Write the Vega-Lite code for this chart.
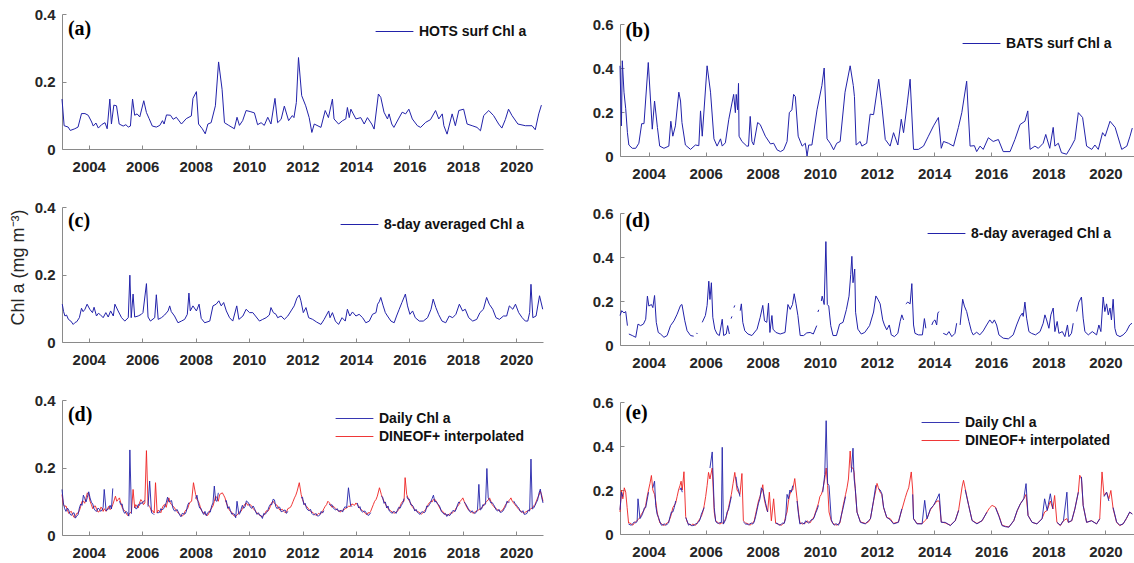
{
  "$schema": "https://vega.github.io/schema/vega-lite/v6.json",
  "background": "white",
  "padding": {"left": 9, "top": 7, "right": 0, "bottom": 0},
  "config": {
    "font": "Liberation Sans",
    "view": {"stroke": null},
    "axis": {
      "grid": false,
      "domainColor": "#8a8a8a",
      "tickColor": "#8a8a8a",
      "tickSize": -4,
      "labelFont": "Liberation Sans",
      "labelFontSize": 15,
      "labelFontWeight": "bold",
      "labelColor": "#262626",
      "labelFlush": false,
      "labelOverlap": false
    },
    "axisX": {"labelPadding": 14},
    "axisY": {"labelPadding": 11},
    "legend": {
      "symbolType": "M-2.7,0H2.7",
      "symbolSize": 196,
      "symbolStrokeWidth": 1,
      "labelFont": "Liberation Sans",
      "labelFontSize": 14,
      "labelFontWeight": "bold",
      "labelColor": "#111111",
      "labelOffset": 17,
      "padding": 0,
      "rowPadding": 3
    }
  },
  "datasets": {
    "hotsMonthly": [
      {"t":2003.0,"v":0.148},{"t":2003.08,"v":0.069},{"t":2003.23,"v":0.065},{"t":2003.31,"v":0.055},{"t":2003.48,"v":0.06},{"t":2003.6,"v":0.065},{"t":2003.73,"v":0.105},{"t":2003.86,"v":0.105},{"t":2003.98,"v":0.1},{"t":2004.11,"v":0.08},{"t":2004.17,"v":0.068},{"t":2004.27,"v":0.077},{"t":2004.36,"v":0.062},{"t":2004.48,"v":0.072},{"t":2004.61,"v":0.078},{"t":2004.69,"v":0.06},{"t":2004.79,"v":0.148},{"t":2004.85,"v":0.074},{"t":2004.94,"v":0.13},{"t":2005.04,"v":0.128},{"t":2005.14,"v":0.074},{"t":2005.29,"v":0.068},{"t":2005.39,"v":0.072},{"t":2005.48,"v":0.065},{"t":2005.56,"v":0.068},{"t":2005.64,"v":0.148},{"t":2005.72,"v":0.1},{"t":2005.81,"v":0.104},{"t":2005.91,"v":0.095},{"t":2006.06,"v":0.143},{"t":2006.16,"v":0.108},{"t":2006.26,"v":0.09},{"t":2006.38,"v":0.068},{"t":2006.53,"v":0.065},{"t":2006.66,"v":0.07},{"t":2006.76,"v":0.084},{"t":2006.82,"v":0.074},{"t":2006.91,"v":0.101},{"t":2007.06,"v":0.1},{"t":2007.16,"v":0.088},{"t":2007.28,"v":0.094},{"t":2007.47,"v":0.074},{"t":2007.65,"v":0.09},{"t":2007.84,"v":0.098},{"t":2007.9,"v":0.15},{"t":2008.03,"v":0.17},{"t":2008.11,"v":0.074},{"t":2008.25,"v":0.06},{"t":2008.36,"v":0.045},{"t":2008.46,"v":0.074},{"t":2008.58,"v":0.078},{"t":2008.74,"v":0.128},{"t":2008.86,"v":0.258},{"t":2008.99,"v":0.177},{"t":2009.08,"v":0.078},{"t":2009.24,"v":0.07},{"t":2009.45,"v":0.06},{"t":2009.55,"v":0.094},{"t":2009.64,"v":0.07},{"t":2009.76,"v":0.084},{"t":2009.89,"v":0.114},{"t":2010.04,"v":0.111},{"t":2010.2,"v":0.107},{"t":2010.32,"v":0.072},{"t":2010.45,"v":0.078},{"t":2010.57,"v":0.07},{"t":2010.7,"v":0.094},{"t":2010.82,"v":0.074},{"t":2010.97,"v":0.15},{"t":2011.07,"v":0.078},{"t":2011.2,"v":0.088},{"t":2011.32,"v":0.127},{"t":2011.48,"v":0.084},{"t":2011.62,"v":0.099},{"t":2011.68,"v":0.093},{"t":2011.77,"v":0.138},{"t":2011.85,"v":0.271},{"t":2011.97,"v":0.158},{"t":2012.12,"v":0.128},{"t":2012.25,"v":0.093},{"t":2012.35,"v":0.049},{"t":2012.44,"v":0.074},{"t":2012.69,"v":0.064},{"t":2012.85,"v":0.114},{"t":2012.97,"v":0.093},{"t":2013.12,"v":0.148},{"t":2013.18,"v":0.089},{"t":2013.35,"v":0.074},{"t":2013.5,"v":0.084},{"t":2013.62,"v":0.089},{"t":2013.68,"v":0.123},{"t":2013.75,"v":0.093},{"t":2013.81,"v":0.118},{"t":2013.9,"v":0.104},{"t":2014.0,"v":0.089},{"t":2014.18,"v":0.093},{"t":2014.31,"v":0.074},{"t":2014.43,"v":0.093},{"t":2014.59,"v":0.074},{"t":2014.68,"v":0.059},{"t":2014.84,"v":0.163},{"t":2014.93,"v":0.153},{"t":2015.05,"v":0.109},{"t":2015.18,"v":0.089},{"t":2015.24,"v":0.104},{"t":2015.34,"v":0.074},{"t":2015.42,"v":0.064},{"t":2015.59,"v":0.089},{"t":2015.73,"v":0.109},{"t":2015.86,"v":0.104},{"t":2015.98,"v":0.118},{"t":2016.11,"v":0.089},{"t":2016.3,"v":0.069},{"t":2016.42,"v":0.064},{"t":2016.61,"v":0.079},{"t":2016.79,"v":0.087},{"t":2016.98,"v":0.114},{"t":2017.1,"v":0.089},{"t":2017.23,"v":0.104},{"t":2017.29,"v":0.069},{"t":2017.41,"v":0.044},{"t":2017.6,"v":0.104},{"t":2017.72,"v":0.069},{"t":2017.85,"v":0.114},{"t":2018.03,"v":0.118},{"t":2018.16,"v":0.074},{"t":2018.35,"v":0.069},{"t":2018.53,"v":0.064},{"t":2018.66,"v":0.054},{"t":2018.78,"v":0.099},{"t":2018.97,"v":0.114},{"t":2019.15,"v":0.099},{"t":2019.34,"v":0.074},{"t":2019.46,"v":0.062},{"t":2019.59,"v":0.087},{"t":2019.71,"v":0.118},{"t":2019.84,"v":0.099},{"t":2020.06,"v":0.074},{"t":2020.34,"v":0.069},{"t":2020.59,"v":0.069},{"t":2020.71,"v":0.057},{"t":2020.84,"v":0.104},{"t":2020.94,"v":0.13}
    ],
    "batsMonthly": [
      {"t":2003.0,"v":0.41},{"t":2003.05,"v":0.137},{"t":2003.08,"v":0.433},{"t":2003.14,"v":0.29},{"t":2003.2,"v":0.215},{"t":2003.26,"v":0.106},{"t":2003.31,"v":0.05},{"t":2003.43,"v":0.035},{"t":2003.55,"v":0.035},{"t":2003.66,"v":0.058},{"t":2003.76,"v":0.147},{"t":2003.84,"v":0.147},{"t":2003.99,"v":0.425},{"t":2004.13,"v":0.122},{"t":2004.21,"v":0.25},{"t":2004.31,"v":0.13},{"t":2004.39,"v":0.045},{"t":2004.54,"v":0.035},{"t":2004.71,"v":0.045},{"t":2004.78,"v":0.158},{"t":2004.85,"v":0.09},{"t":2004.94,"v":0.137},{"t":2005.06,"v":0.29},{"t":2005.12,"v":0.25},{"t":2005.17,"v":0.152},{"t":2005.29,"v":0.05},{"t":2005.47,"v":0.03},{"t":2005.64,"v":0.05},{"t":2005.76,"v":0.047},{"t":2005.82,"v":0.205},{"t":2005.88,"v":0.09},{"t":2006.05,"v":0.41},{"t":2006.17,"v":0.29},{"t":2006.29,"v":0.078},{"t":2006.4,"v":0.045},{"t":2006.52,"v":0.078},{"t":2006.58,"v":0.045},{"t":2006.69,"v":0.06},{"t":2006.81,"v":0.167},{"t":2006.98,"v":0.28},{"t":2007.04,"v":0.197},{"t":2007.07,"v":0.28},{"t":2007.12,"v":0.21},{"t":2007.15,"v":0.33},{"t":2007.17,"v":0.09},{"t":2007.27,"v":0.066},{"t":2007.44,"v":0.045},{"t":2007.5,"v":0.045},{"t":2007.56,"v":0.18},{"t":2007.62,"v":0.066},{"t":2007.68,"v":0.05},{"t":2007.82,"v":0.152},{"t":2007.91,"v":0.143},{"t":2008.09,"v":0.09},{"t":2008.27,"v":0.055},{"t":2008.38,"v":0.058},{"t":2008.5,"v":0.028},{"t":2008.62,"v":0.02},{"t":2008.73,"v":0.028},{"t":2008.85,"v":0.066},{"t":2008.93,"v":0.197},{"t":2009.02,"v":0.21},{"t":2009.08,"v":0.28},{"t":2009.14,"v":0.27},{"t":2009.24,"v":0.09},{"t":2009.38,"v":0.045},{"t":2009.49,"v":0.058},{"t":2009.55,"v":0.0},{"t":2009.61,"v":0.05},{"t":2009.72,"v":0.05},{"t":2009.9,"v":0.21},{"t":2010.07,"v":0.32},{"t":2010.15,"v":0.4},{"t":2010.25,"v":0.078},{"t":2010.36,"v":0.058},{"t":2010.48,"v":0.028},{"t":2010.59,"v":0.058},{"t":2010.71,"v":0.066},{"t":2010.88,"v":0.29},{"t":2011.06,"v":0.41},{"t":2011.17,"v":0.32},{"t":2011.21,"v":0.27},{"t":2011.27,"v":0.05},{"t":2011.41,"v":0.066},{"t":2011.47,"v":0.045},{"t":2011.64,"v":0.058},{"t":2011.76,"v":0.19},{"t":2011.88,"v":0.188},{"t":2012.06,"v":0.349},{"t":2012.17,"v":0.228},{"t":2012.29,"v":0.075},{"t":2012.46,"v":0.045},{"t":2012.58,"v":0.106},{"t":2012.73,"v":0.05},{"t":2012.85,"v":0.167},{"t":2012.93,"v":0.106},{"t":2013.05,"v":0.228},{"t":2013.16,"v":0.349},{"t":2013.28,"v":0.03},{"t":2013.45,"v":0.03},{"t":2013.63,"v":0.045},{"t":2013.8,"v":0.09},{"t":2013.98,"v":0.137},{"t":2014.15,"v":0.175},{"t":2014.25,"v":0.035},{"t":2014.33,"v":0.066},{"t":2014.5,"v":0.058},{"t":2014.68,"v":0.045},{"t":2014.85,"v":0.13},{"t":2014.97,"v":0.197},{"t":2015.14,"v":0.34},{"t":2015.26,"v":0.045},{"t":2015.41,"v":0.047},{"t":2015.49,"v":0.02},{"t":2015.61,"v":0.045},{"t":2015.72,"v":0.03},{"t":2015.9,"v":0.083},{"t":2016.07,"v":0.066},{"t":2016.25,"v":0.075},{"t":2016.42,"v":0.02},{"t":2016.66,"v":0.02},{"t":2016.83,"v":0.075},{"t":2017.01,"v":0.143},{"t":2017.18,"v":0.158},{"t":2017.28,"v":0.205},{"t":2017.36,"v":0.03},{"t":2017.53,"v":0.045},{"t":2017.65,"v":0.035},{"t":2017.82,"v":0.058},{"t":2017.91,"v":0.098},{"t":2018.05,"v":0.035},{"t":2018.17,"v":0.13},{"t":2018.23,"v":0.045},{"t":2018.35,"v":0.058},{"t":2018.46,"v":0.015},{"t":2018.64,"v":0.008},{"t":2018.81,"v":0.045},{"t":2018.93,"v":0.075},{"t":2019.05,"v":0.197},{"t":2019.2,"v":0.175},{"t":2019.34,"v":0.045},{"t":2019.52,"v":0.03},{"t":2019.63,"v":0.05},{"t":2019.75,"v":0.03},{"t":2019.9,"v":0.106},{"t":2019.99,"v":0.09},{"t":2020.16,"v":0.158},{"t":2020.34,"v":0.13},{"t":2020.57,"v":0.03},{"t":2020.75,"v":0.045},{"t":2020.86,"v":0.09},{"t":2020.94,"v":0.127}
    ],
    "hots8day": [
      {"t":2003.01,"v":0.112},{"t":2003.06,"v":0.09},{"t":2003.11,"v":0.077},{"t":2003.17,"v":0.08},{"t":2003.24,"v":0.067},{"t":2003.33,"v":0.062},{"t":2003.42,"v":0.052},{"t":2003.49,"v":0.058},{"t":2003.55,"v":0.06},{"t":2003.65,"v":0.072},{"t":2003.73,"v":0.1},{"t":2003.79,"v":0.09},{"t":2003.86,"v":0.097},{"t":2003.94,"v":0.112},{"t":2004.04,"v":0.097},{"t":2004.14,"v":0.087},{"t":2004.2,"v":0.103},{"t":2004.29,"v":0.077},{"t":2004.36,"v":0.085},{"t":2004.42,"v":0.082},{"t":2004.54,"v":0.072},{"t":2004.64,"v":0.087},{"t":2004.73,"v":0.074},{"t":2004.82,"v":0.092},{"t":2004.92,"v":0.077},{"t":2004.98,"v":0.112},{"t":2005.1,"v":0.092},{"t":2005.23,"v":0.072},{"t":2005.35,"v":0.062},{"t":2005.48,"v":0.072},{"t":2005.54,"v":0.198},{"t":2005.59,"v":0.072},{"t":2005.66,"v":0.142},{"t":2005.72,"v":0.074},{"t":2005.85,"v":0.077},{"t":2005.97,"v":0.082},{"t":2006.03,"v":0.087},{"t":2006.16,"v":0.173},{"t":2006.22,"v":0.074},{"t":2006.31,"v":0.062},{"t":2006.47,"v":0.072},{"t":2006.53,"v":0.14},{"t":2006.6,"v":0.067},{"t":2006.72,"v":0.072},{"t":2006.84,"v":0.08},{"t":2006.97,"v":0.092},{"t":2007.03,"v":0.107},{"t":2007.09,"v":0.09},{"t":2007.21,"v":0.077},{"t":2007.34,"v":0.057},{"t":2007.47,"v":0.062},{"t":2007.59,"v":0.067},{"t":2007.69,"v":0.082},{"t":2007.75,"v":0.145},{"t":2007.8,"v":0.092},{"t":2007.9,"v":0.107},{"t":2008.03,"v":0.092},{"t":2008.13,"v":0.112},{"t":2008.21,"v":0.07},{"t":2008.34,"v":0.057},{"t":2008.53,"v":0.062},{"t":2008.65,"v":0.107},{"t":2008.77,"v":0.112},{"t":2008.87,"v":0.122},{"t":2008.96,"v":0.107},{"t":2009.05,"v":0.117},{"t":2009.15,"v":0.092},{"t":2009.27,"v":0.072},{"t":2009.39,"v":0.062},{"t":2009.54,"v":0.107},{"t":2009.62,"v":0.067},{"t":2009.77,"v":0.077},{"t":2009.89,"v":0.097},{"t":2010.02,"v":0.087},{"t":2010.14,"v":0.087},{"t":2010.24,"v":0.077},{"t":2010.39,"v":0.062},{"t":2010.51,"v":0.067},{"t":2010.64,"v":0.072},{"t":2010.76,"v":0.08},{"t":2010.82,"v":0.102},{"t":2010.91,"v":0.087},{"t":2011.01,"v":0.082},{"t":2011.07,"v":0.072},{"t":2011.2,"v":0.077},{"t":2011.32,"v":0.067},{"t":2011.45,"v":0.077},{"t":2011.57,"v":0.092},{"t":2011.69,"v":0.107},{"t":2011.79,"v":0.13},{"t":2011.88,"v":0.139},{"t":2011.94,"v":0.122},{"t":2012.03,"v":0.087},{"t":2012.13,"v":0.102},{"t":2012.23,"v":0.072},{"t":2012.38,"v":0.067},{"t":2012.53,"v":0.059},{"t":2012.69,"v":0.052},{"t":2012.81,"v":0.067},{"t":2012.98,"v":0.092},{"t":2013.03,"v":0.072},{"t":2013.12,"v":0.087},{"t":2013.23,"v":0.062},{"t":2013.35,"v":0.052},{"t":2013.48,"v":0.072},{"t":2013.6,"v":0.062},{"t":2013.68,"v":0.097},{"t":2013.77,"v":0.077},{"t":2013.87,"v":0.089},{"t":2014.0,"v":0.077},{"t":2014.12,"v":0.082},{"t":2014.25,"v":0.072},{"t":2014.37,"v":0.057},{"t":2014.5,"v":0.062},{"t":2014.62,"v":0.082},{"t":2014.75,"v":0.087},{"t":2014.81,"v":0.112},{"t":2014.87,"v":0.119},{"t":2014.93,"v":0.132},{"t":2015.02,"v":0.107},{"t":2015.1,"v":0.087},{"t":2015.18,"v":0.077},{"t":2015.31,"v":0.062},{"t":2015.43,"v":0.057},{"t":2015.52,"v":0.077},{"t":2015.62,"v":0.097},{"t":2015.72,"v":0.117},{"t":2015.85,"v":0.142},{"t":2015.93,"v":0.107},{"t":2016.02,"v":0.082},{"t":2016.12,"v":0.092},{"t":2016.22,"v":0.072},{"t":2016.37,"v":0.062},{"t":2016.52,"v":0.062},{"t":2016.68,"v":0.072},{"t":2016.81,"v":0.097},{"t":2016.89,"v":0.127},{"t":2016.99,"v":0.102},{"t":2017.09,"v":0.082},{"t":2017.22,"v":0.062},{"t":2017.36,"v":0.057},{"t":2017.49,"v":0.077},{"t":2017.62,"v":0.072},{"t":2017.74,"v":0.082},{"t":2017.87,"v":0.112},{"t":2017.99,"v":0.092},{"t":2018.09,"v":0.097},{"t":2018.22,"v":0.072},{"t":2018.37,"v":0.062},{"t":2018.52,"v":0.067},{"t":2018.64,"v":0.087},{"t":2018.77,"v":0.097},{"t":2018.89,"v":0.132},{"t":2018.99,"v":0.112},{"t":2019.12,"v":0.097},{"t":2019.24,"v":0.072},{"t":2019.37,"v":0.067},{"t":2019.52,"v":0.077},{"t":2019.64,"v":0.077},{"t":2019.74,"v":0.107},{"t":2019.87,"v":0.097},{"t":2019.97,"v":0.112},{"t":2020.09,"v":0.087},{"t":2020.22,"v":0.072},{"t":2020.34,"v":0.062},{"t":2020.43,"v":0.062},{"t":2020.5,"v":0.087},{"t":2020.55,"v":0.171},{"t":2020.62,"v":0.072},{"t":2020.74,"v":0.077},{"t":2020.87,"v":0.137},{"t":2020.99,"v":0.097}
    ],
    "bats8day": [
      {"t":2003.0,"v":0.134},{"t":2003.06,"v":0.156},{"t":2003.14,"v":0.146},{"t":2003.2,"v":0.152},{"t":2003.26,"v":0.088},{"t":2003.28,"v":null},{"t":2003.31,"v":0.05},{"t":2003.43,"v":0.043},{"t":2003.55,"v":0.035},{"t":2003.63,"v":0.095},{"t":2003.72,"v":0.088},{"t":2003.82,"v":0.095},{"t":2003.9,"v":0.117},{"t":2003.96,"v":0.222},{"t":2004.01,"v":0.177},{"t":2004.1,"v":0.184},{"t":2004.15,"v":0.17},{"t":2004.21,"v":0.225},{"t":2004.27,"v":0.103},{"t":2004.34,"v":0.057},{"t":2004.42,"v":0.05},{"t":2004.54,"v":0.035},{"t":2004.65,"v":0.043},{"t":2004.77,"v":0.088},{"t":2004.89,"v":0.11},{"t":2005.0,"v":0.14},{"t":2005.12,"v":0.18},{"t":2005.17,"v":0.184},{"t":2005.27,"v":0.11},{"t":2005.35,"v":0.065},{"t":2005.47,"v":0.043},{"t":2005.58,"v":0.04},{"t":2005.63,"v":null},{"t":2005.68,"v":0.055},{"t":2005.71,"v":0.05},{"t":2005.75,"v":null},{"t":2005.88,"v":0.103},{"t":2005.99,"v":0.134},{"t":2006.05,"v":0.18},{"t":2006.11,"v":0.29},{"t":2006.15,"v":0.207},{"t":2006.2,"v":0.283},{"t":2006.25,"v":0.126},{"t":2006.32,"v":0.072},{"t":2006.4,"v":0.05},{"t":2006.48,"v":0.043},{"t":2006.58,"v":0.117},{"t":2006.63,"v":0.043},{"t":2006.72,"v":0.05},{"t":2006.77,"v":0.088},{"t":2006.83,"v":0.05},{"t":2006.86,"v":null},{"t":2006.89,"v":0.12},{"t":2006.92,"v":0.13},{"t":2006.95,"v":null},{"t":2006.99,"v":0.17},{"t":2007.02,"v":0.18},{"t":2007.05,"v":null},{"t":2007.21,"v":0.156},{"t":2007.25,"v":0.187},{"t":2007.3,"v":0.103},{"t":2007.37,"v":0.065},{"t":2007.48,"v":0.05},{"t":2007.62,"v":0.043},{"t":2007.8,"v":0.072},{"t":2007.91,"v":0.126},{"t":2008.0,"v":0.18},{"t":2008.06,"v":0.11},{"t":2008.14,"v":0.103},{"t":2008.2,"v":0.19},{"t":2008.25,"v":0.057},{"t":2008.32,"v":0.134},{"t":2008.36,"v":0.072},{"t":2008.46,"v":0.057},{"t":2008.61,"v":0.05},{"t":2008.78,"v":0.057},{"t":2008.88,"v":0.184},{"t":2008.96,"v":0.162},{"t":2009.04,"v":0.184},{"t":2009.1,"v":0.233},{"t":2009.16,"v":0.19},{"t":2009.23,"v":0.134},{"t":2009.31,"v":0.043},{"t":2009.43,"v":0.043},{"t":2009.54,"v":0.055},{"t":2009.66,"v":0.057},{"t":2009.77,"v":0.05},{"t":2009.89,"v":0.088},{"t":2009.91,"v":null},{"t":2009.93,"v":0.15},{"t":2009.96,"v":0.16},{"t":2009.99,"v":null},{"t":2010.05,"v":0.2},{"t":2010.08,"v":0.222},{"t":2010.15,"v":0.184},{"t":2010.21,"v":0.47},{"t":2010.26,"v":0.184},{"t":2010.31,"v":0.177},{"t":2010.38,"v":0.088},{"t":2010.46,"v":0.043},{"t":2010.58,"v":0.043},{"t":2010.69,"v":0.095},{"t":2010.81,"v":0.103},{"t":2010.93,"v":0.162},{"t":2011.02,"v":0.222},{"t":2011.08,"v":0.32},{"t":2011.12,"v":0.403},{"t":2011.16,"v":0.283},{"t":2011.22,"v":0.345},{"t":2011.25,"v":0.149},{"t":2011.33,"v":0.072},{"t":2011.45,"v":0.05},{"t":2011.57,"v":0.057},{"t":2011.74,"v":0.088},{"t":2011.88,"v":0.15},{"t":2011.96,"v":0.223},{"t":2012.03,"v":0.208},{"t":2012.11,"v":0.187},{"t":2012.2,"v":0.114},{"t":2012.26,"v":0.091},{"t":2012.34,"v":0.069},{"t":2012.43,"v":0.091},{"t":2012.5,"v":0.046},{"t":2012.61,"v":0.038},{"t":2012.73,"v":0.053},{"t":2012.81,"v":0.107},{"t":2012.87,"v":0.137},{"t":2012.93,"v":0.114},{"t":2012.97,"v":null},{"t":2013.01,"v":0.187},{"t":2013.08,"v":0.195},{"t":2013.16,"v":0.187},{"t":2013.22,"v":0.279},{"t":2013.28,"v":0.091},{"t":2013.33,"v":0.053},{"t":2013.45,"v":0.046},{"t":2013.59,"v":0.046},{"t":2013.66,"v":0.12},{"t":2013.71,"v":0.076},{"t":2013.8,"v":null},{"t":2013.92,"v":0.091},{"t":2013.97,"v":0.107},{"t":2014.03,"v":0.114},{"t":2014.09,"v":0.091},{"t":2014.13,"v":0.145},{"t":2014.17,"v":0.152},{"t":2014.24,"v":null},{"t":2014.32,"v":0.053},{"t":2014.44,"v":0.046},{"t":2014.52,"v":0.061},{"t":2014.62,"v":0.038},{"t":2014.73,"v":0.053},{"t":2014.79,"v":0.099},{"t":2014.85,"v":null},{"t":2014.91,"v":0.091},{"t":2015.0,"v":0.208},{"t":2015.06,"v":0.177},{"t":2015.14,"v":0.152},{"t":2015.22,"v":0.107},{"t":2015.31,"v":0.061},{"t":2015.37,"v":0.046},{"t":2015.49,"v":0.058},{"t":2015.6,"v":0.046},{"t":2015.72,"v":0.064},{"t":2015.84,"v":0.091},{"t":2015.95,"v":0.114},{"t":2016.04,"v":0.099},{"t":2016.11,"v":0.114},{"t":2016.19,"v":0.091},{"t":2016.27,"v":0.046},{"t":2016.42,"v":0.031},{"t":2016.6,"v":0.028},{"t":2016.77,"v":0.046},{"t":2016.89,"v":0.091},{"t":2017.01,"v":0.13},{"t":2017.09,"v":0.145},{"t":2017.12,"v":0.13},{"t":2017.18,"v":0.195},{"t":2017.24,"v":0.122},{"t":2017.32,"v":0.061},{"t":2017.41,"v":0.053},{"t":2017.55,"v":0.046},{"t":2017.71,"v":0.061},{"t":2017.82,"v":0.099},{"t":2017.88,"v":0.137},{"t":2017.94,"v":0.114},{"t":2018.02,"v":0.076},{"t":2018.09,"v":0.137},{"t":2018.17,"v":0.168},{"t":2018.23,"v":0.061},{"t":2018.31,"v":0.107},{"t":2018.37,"v":0.053},{"t":2018.49,"v":0.061},{"t":2018.58,"v":0.038},{"t":2018.67,"v":0.091},{"t":2018.72,"v":0.038},{"t":2018.81,"v":0.053},{"t":2018.87,"v":0.099},{"t":2018.93,"v":null},{"t":2018.99,"v":0.152},{"t":2019.07,"v":0.195},{"t":2019.16,"v":0.218},{"t":2019.22,"v":0.122},{"t":2019.28,"v":0.061},{"t":2019.4,"v":0.046},{"t":2019.54,"v":0.061},{"t":2019.69,"v":0.046},{"t":2019.77,"v":0.091},{"t":2019.84,"v":0.061},{"t":2019.92,"v":0.218},{"t":2019.98,"v":0.152},{"t":2020.04,"v":0.187},{"t":2020.1,"v":0.137},{"t":2020.16,"v":0.168},{"t":2020.21,"v":0.114},{"t":2020.27,"v":0.208},{"t":2020.33,"v":0.076},{"t":2020.39,"v":0.046},{"t":2020.51,"v":0.038},{"t":2020.62,"v":0.046},{"t":2020.73,"v":0.061},{"t":2020.85,"v":0.091},{"t":2020.93,"v":0.099}
    ],
    "hotsDaily": [
      {"t":2003.0,"i":0.12,"d":0.135},{"t":2003.05,"i":0.09,"d":0.095},{"t":2003.1,"i":0.085,"d":0.078},{"t":2003.2,"i":0.075,"d":0.08},{"t":2003.3,"i":0.068,"d":0.062},{"t":2003.4,"i":0.06,"d":0.064},{"t":2003.5,"i":0.055,"d":0.05},{"t":2003.6,"i":0.065,"d":0.06},{"t":2003.7,"i":0.085,"d":0.092},{"t":2003.8,"i":0.1,"d":0.118},{"t":2003.9,"i":0.11,"d":0.098},{"t":2004.0,"i":0.12,"d":0.128},{"t":2004.1,"i":0.09,"d":0.097},{"t":2004.2,"i":0.085,"d":0.078},{"t":2004.3,"i":0.075,"d":0.07},{"t":2004.4,"i":0.07,"d":0.076},{"t":2004.5,"i":0.08,"d":0.074},{"t":2004.58,"i":0.078,"d":0.135},{"t":2004.65,"i":0.07,"d":0.072},{"t":2004.75,"i":0.085,"d":0.078},{"t":2004.85,"i":0.08,"d":0.077},{"t":2004.9,"i":0.09,"d":0.138},{"t":2005.0,"i":0.115,"d":null},{"t":2005.1,"i":0.105,"d":null},{"t":2005.2,"i":0.095,"d":0.09},{"t":2005.3,"i":0.075,"d":0.07},{"t":2005.4,"i":0.065,"d":0.07},{"t":2005.5,"i":0.06,"d":0.056},{"t":2005.54,"i":0.065,"d":0.252},{"t":2005.6,"i":0.07,"d":0.063},{"t":2005.66,"i":0.135,"d":null},{"t":2005.72,"i":0.08,"d":0.084},{"t":2005.8,"i":0.085,"d":0.078},{"t":2005.9,"i":0.095,"d":0.088},{"t":2006.0,"i":0.1,"d":0.093},{"t":2006.1,"i":0.095,"d":0.102},{"t":2006.16,"i":0.25,"d":null},{"t":2006.22,"i":0.09,"d":0.084},{"t":2006.28,"i":0.085,"d":0.16},{"t":2006.35,"i":0.07,"d":0.066},{"t":2006.45,"i":0.065,"d":0.06},{"t":2006.5,"i":0.155,"d":null},{"t":2006.56,"i":0.065,"d":0.066},{"t":2006.65,"i":0.07,"d":0.067},{"t":2006.75,"i":0.08,"d":0.074},{"t":2006.85,"i":0.09,"d":0.086},{"t":2006.95,"i":0.1,"d":0.112},{"t":2007.05,"i":0.095,"d":0.1},{"t":2007.15,"i":0.085,"d":0.08},{"t":2007.25,"i":0.075,"d":0.071},{"t":2007.35,"i":0.065,"d":0.069},{"t":2007.45,"i":0.058,"d":0.054},{"t":2007.55,"i":0.06,"d":0.063},{"t":2007.65,"i":0.075,"d":0.069},{"t":2007.75,"i":0.09,"d":0.096},{"t":2007.85,"i":0.1,"d":null},{"t":2007.92,"i":0.155,"d":null},{"t":2008.0,"i":0.12,"d":0.108},{"t":2008.1,"i":0.1,"d":0.094},{"t":2008.2,"i":0.075,"d":0.079},{"t":2008.3,"i":0.065,"d":0.061},{"t":2008.4,"i":0.06,"d":0.057},{"t":2008.5,"i":0.065,"d":0.069},{"t":2008.6,"i":0.08,"d":0.086},{"t":2008.7,"i":0.1,"d":0.145},{"t":2008.8,"i":0.11,"d":0.1},{"t":2008.9,"i":0.12,"d":null},{"t":2009.0,"i":0.125,"d":null},{"t":2009.1,"i":0.11,"d":0.1},{"t":2009.2,"i":0.085,"d":0.079},{"t":2009.3,"i":0.07,"d":0.073},{"t":2009.4,"i":0.06,"d":0.063},{"t":2009.5,"i":0.055,"d":0.051},{"t":2009.55,"i":0.06,"d":0.1},{"t":2009.62,"i":0.065,"d":0.061},{"t":2009.7,"i":0.07,"d":0.076},{"t":2009.8,"i":0.085,"d":0.079},{"t":2009.9,"i":0.095,"d":0.101},{"t":2010.0,"i":0.09,"d":0.092},{"t":2010.1,"i":0.085,"d":0.079},{"t":2010.2,"i":0.075,"d":0.079},{"t":2010.3,"i":0.065,"d":0.061},{"t":2010.4,"i":0.06,"d":0.058},{"t":2010.5,"i":0.055,"d":0.049},{"t":2010.6,"i":0.065,"d":0.061},{"t":2010.7,"i":0.07,"d":0.073},{"t":2010.8,"i":0.085,"d":0.091},{"t":2010.9,"i":0.1,"d":0.106},{"t":2011.0,"i":0.09,"d":0.084},{"t":2011.1,"i":0.08,"d":0.083},{"t":2011.2,"i":0.075,"d":0.069},{"t":2011.3,"i":0.07,"d":0.073},{"t":2011.4,"i":0.068,"d":0.064},{"t":2011.5,"i":0.08,"d":null},{"t":2011.6,"i":0.09,"d":null},{"t":2011.7,"i":0.11,"d":null},{"t":2011.8,"i":0.13,"d":null},{"t":2011.88,"i":0.155,"d":null},{"t":2011.95,"i":0.12,"d":0.11},{"t":2012.05,"i":0.095,"d":0.09},{"t":2012.15,"i":0.085,"d":0.079},{"t":2012.25,"i":0.075,"d":0.072},{"t":2012.35,"i":0.068,"d":0.064},{"t":2012.45,"i":0.062,"d":0.06},{"t":2012.55,"i":0.06,"d":0.057},{"t":2012.65,"i":0.062,"d":0.06},{"t":2012.75,"i":0.07,"d":0.065},{"t":2012.85,"i":0.085,"d":null},{"t":2012.95,"i":0.1,"d":null},{"t":2013.05,"i":0.09,"d":0.087},{"t":2013.15,"i":0.085,"d":0.081},{"t":2013.25,"i":0.078,"d":0.074},{"t":2013.35,"i":0.072,"d":0.07},{"t":2013.45,"i":0.07,"d":0.073},{"t":2013.55,"i":0.075,"d":0.079},{"t":2013.65,"i":0.08,"d":0.08},{"t":2013.72,"i":0.085,"d":0.14},{"t":2013.8,"i":0.085,"d":0.088},{"t":2013.9,"i":0.09,"d":null},{"t":2014.0,"i":0.095,"d":null},{"t":2014.1,"i":0.085,"d":0.08},{"t":2014.2,"i":0.075,"d":0.071},{"t":2014.3,"i":0.068,"d":0.071},{"t":2014.4,"i":0.06,"d":0.063},{"t":2014.5,"i":0.065,"d":0.06},{"t":2014.6,"i":0.08,"d":null},{"t":2014.7,"i":0.1,"d":null},{"t":2014.8,"i":0.115,"d":null},{"t":2014.88,"i":0.14,"d":null},{"t":2014.95,"i":0.12,"d":0.115},{"t":2015.05,"i":0.1,"d":0.094},{"t":2015.15,"i":0.085,"d":0.08},{"t":2015.25,"i":0.075,"d":0.071},{"t":2015.35,"i":0.068,"d":0.064},{"t":2015.45,"i":0.065,"d":0.069},{"t":2015.55,"i":0.07,"d":0.073},{"t":2015.65,"i":0.085,"d":0.079},{"t":2015.75,"i":0.1,"d":0.094},{"t":2015.84,"i":0.17,"d":null},{"t":2015.9,"i":0.12,"d":0.114},{"t":2016.0,"i":0.1,"d":0.106},{"t":2016.1,"i":0.085,"d":0.089},{"t":2016.2,"i":0.075,"d":0.071},{"t":2016.3,"i":0.07,"d":0.067},{"t":2016.4,"i":0.065,"d":0.061},{"t":2016.5,"i":0.065,"d":0.069},{"t":2016.6,"i":0.075,"d":0.069},{"t":2016.7,"i":0.09,"d":0.084},{"t":2016.8,"i":0.1,"d":0.097},{"t":2016.9,"i":0.105,"d":0.118},{"t":2017.0,"i":0.1,"d":0.1},{"t":2017.1,"i":0.085,"d":0.089},{"t":2017.2,"i":0.072,"d":0.069},{"t":2017.3,"i":0.065,"d":0.061},{"t":2017.4,"i":0.06,"d":0.055},{"t":2017.5,"i":0.062,"d":0.057},{"t":2017.6,"i":0.065,"d":0.069},{"t":2017.7,"i":0.072,"d":0.069},{"t":2017.8,"i":0.085,"d":0.089},{"t":2017.9,"i":0.1,"d":0.094},{"t":2018.0,"i":0.11,"d":null},{"t":2018.1,"i":0.09,"d":0.093},{"t":2018.2,"i":0.075,"d":0.079},{"t":2018.3,"i":0.07,"d":0.067},{"t":2018.4,"i":0.065,"d":0.066},{"t":2018.5,"i":0.07,"d":0.067},{"t":2018.6,"i":0.075,"d":0.15},{"t":2018.7,"i":0.08,"d":0.077},{"t":2018.8,"i":0.09,"d":0.088},{"t":2018.9,"i":0.1,"d":0.197},{"t":2019.0,"i":0.11,"d":0.104},{"t":2019.1,"i":0.09,"d":0.096},{"t":2019.2,"i":0.08,"d":0.083},{"t":2019.3,"i":0.075,"d":0.071},{"t":2019.4,"i":0.07,"d":0.067},{"t":2019.5,"i":0.075,"d":0.071},{"t":2019.6,"i":0.09,"d":0.084},{"t":2019.7,"i":0.1,"d":0.097},{"t":2019.8,"i":0.11,"d":null},{"t":2019.9,"i":0.095,"d":0.101},{"t":2020.0,"i":0.085,"d":0.089},{"t":2020.1,"i":0.075,"d":0.079},{"t":2020.2,"i":0.07,"d":0.067},{"t":2020.3,"i":0.065,"d":0.061},{"t":2020.4,"i":0.07,"d":0.064},{"t":2020.5,"i":0.075,"d":0.071},{"t":2020.55,"i":0.078,"d":0.225},{"t":2020.6,"i":0.08,"d":0.077},{"t":2020.7,"i":0.09,"d":0.087},{"t":2020.8,"i":0.11,"d":0.104},{"t":2020.9,"i":0.13,"d":0.136},{"t":2021.0,"i":0.1,"d":0.095},
      {"t":2003.15,"i":0.086,"d":0.07},{"t":2003.25,"i":0.064,"d":0.074},{"t":2003.35,"i":0.07,"d":0.058},{"t":2003.45,"i":0.052,"d":0.066},{"t":2003.55,"i":0.064,"d":0.056},{"t":2003.65,"i":0.072,"d":0.08},{"t":2003.75,"i":0.1,"d":0.088},{"t":2003.85,"i":0.094,"d":0.108},{"t":2003.95,"i":0.125,"d":0.112},{"t":2004.05,"i":0.1,"d":0.11},{"t":2004.15,"i":0.078,"d":0.092},{"t":2004.25,"i":0.086,"d":0.072},{"t":2004.35,"i":0.068,"d":0.08},{"t":2004.45,"i":0.082,"d":0.07},{"t":2004.54,"i":0.07,"d":0.082},{"t":2004.8,"i":0.075,"d":0.088},{"t":2005.05,"i":0.1,"d":null},{"t":2005.15,"i":0.11,"d":0.1},{"t":2005.25,"i":0.082,"d":0.092},{"t":2005.35,"i":0.072,"d":0.064},{"t":2005.45,"i":0.058,"d":0.066},{"t":2005.76,"i":0.09,"d":0.078},{"t":2005.85,"i":0.08,"d":0.09},{"t":2005.95,"i":0.105,"d":0.096},{"t":2006.05,"i":0.09,"d":0.1},{"t":2006.4,"i":0.072,"d":0.064},{"t":2006.6,"i":0.074,"d":0.066},{"t":2006.7,"i":0.066,"d":0.078},{"t":2006.8,"i":0.088,"d":0.078},{"t":2006.9,"i":0.082,"d":0.096},{"t":2007.0,"i":0.11,"d":0.098},{"t":2007.1,"i":0.09,"d":0.102},{"t":2007.2,"i":0.082,"d":0.072},{"t":2007.3,"i":0.07,"d":0.076},{"t":2007.4,"i":0.062,"d":0.06},{"t":2007.5,"i":0.056,"d":0.064},{"t":2007.6,"i":0.07,"d":0.062},{"t":2007.7,"i":0.078,"d":0.088},{"t":2007.8,"i":0.098,"d":null},{"t":2008.05,"i":0.105,"d":0.118},{"t":2008.15,"i":0.09,"d":0.08},{"t":2008.25,"i":0.07,"d":0.068},{"t":2008.35,"i":0.062,"d":0.07},{"t":2008.45,"i":0.058,"d":0.066},{"t":2008.55,"i":0.074,"d":0.068},{"t":2008.65,"i":0.086,"d":0.095},{"t":2008.75,"i":0.115,"d":0.102},{"t":2008.85,"i":0.1,"d":0.125},{"t":2009.05,"i":0.118,"d":null},{"t":2009.15,"i":0.095,"d":0.102},{"t":2009.25,"i":0.076,"d":0.084},{"t":2009.35,"i":0.068,"d":0.062},{"t":2009.45,"i":0.056,"d":0.062},{"t":2009.66,"i":0.07,"d":0.064},{"t":2009.75,"i":0.078,"d":0.088},{"t":2009.85,"i":0.092,"d":0.084},{"t":2009.95,"i":0.088,"d":0.098},{"t":2010.05,"i":0.09,"d":0.082},{"t":2010.15,"i":0.078,"d":0.086},{"t":2010.25,"i":0.07,"d":0.068},{"t":2010.35,"i":0.062,"d":0.066},{"t":2010.45,"i":0.054,"d":0.058},{"t":2010.55,"i":0.058,"d":0.064},{"t":2010.65,"i":0.072,"d":0.066},{"t":2010.75,"i":0.076,"d":0.084},{"t":2010.85,"i":0.096,"d":0.09},{"t":2010.95,"i":0.094,"d":0.104},{"t":2011.05,"i":0.088,"d":0.078},{"t":2011.15,"i":0.074,"d":0.082},{"t":2011.25,"i":0.076,"d":0.07},{"t":2011.35,"i":0.066,"d":0.074},{"t":2011.45,"i":0.078,"d":0.07},{"t":2011.55,"i":0.082,"d":null},{"t":2011.65,"i":0.1,"d":null},{"t":2011.75,"i":0.118,"d":null},{"t":2012.0,"i":0.105,"d":0.112},{"t":2012.1,"i":0.088,"d":0.094},{"t":2012.2,"i":0.08,"d":0.074},{"t":2012.3,"i":0.07,"d":0.076},{"t":2012.4,"i":0.066,"d":0.06},{"t":2012.5,"i":0.058,"d":0.064},{"t":2012.6,"i":0.064,"d":0.056},{"t":2012.7,"i":0.064,"d":0.07},{"t":2012.8,"i":0.078,"d":0.072},{"t":2012.9,"i":0.09,"d":null},{"t":2013.0,"i":0.096,"d":0.092},{"t":2013.1,"i":0.082,"d":0.09},{"t":2013.2,"i":0.082,"d":0.076},{"t":2013.3,"i":0.074,"d":0.078},{"t":2013.4,"i":0.068,"d":0.072},{"t":2013.5,"i":0.074,"d":0.068},{"t":2013.6,"i":0.078,"d":0.084},{"t":2013.85,"i":0.092,"d":0.084},{"t":2013.95,"i":0.088,"d":null},{"t":2014.05,"i":0.09,"d":0.095},{"t":2014.15,"i":0.078,"d":0.084},{"t":2014.25,"i":0.072,"d":0.068},{"t":2014.35,"i":0.064,"d":0.07},{"t":2014.45,"i":0.066,"d":0.058},{"t":2014.55,"i":0.07,"d":0.066},{"t":2014.65,"i":0.09,"d":null},{"t":2014.75,"i":0.105,"d":null},{"t":2015.0,"i":0.108,"d":0.112},{"t":2015.1,"i":0.092,"d":0.098},{"t":2015.2,"i":0.078,"d":0.086},{"t":2015.3,"i":0.072,"d":0.068},{"t":2015.4,"i":0.066,"d":0.07},{"t":2015.5,"i":0.068,"d":0.064},{"t":2015.6,"i":0.076,"d":0.082},{"t":2015.7,"i":0.094,"d":0.088},{"t":2015.8,"i":0.1,"d":0.108},{"t":2015.95,"i":0.11,"d":0.106},{"t":2016.05,"i":0.094,"d":0.09},{"t":2016.15,"i":0.08,"d":0.084},{"t":2016.25,"i":0.072,"d":0.076},{"t":2016.35,"i":0.068,"d":0.064},{"t":2016.45,"i":0.062,"d":0.068},{"t":2016.55,"i":0.07,"d":0.066},{"t":2016.65,"i":0.08,"d":0.086},{"t":2016.75,"i":0.096,"d":0.09},{"t":2016.85,"i":0.098,"d":0.108},{"t":2016.95,"i":0.106,"d":0.098},{"t":2017.05,"i":0.094,"d":0.092},{"t":2017.15,"i":0.078,"d":0.082},{"t":2017.25,"i":0.07,"d":0.066},{"t":2017.35,"i":0.06,"d":0.064},{"t":2017.45,"i":0.058,"d":0.062},{"t":2017.55,"i":0.066,"d":0.062},{"t":2017.65,"i":0.068,"d":0.074},{"t":2017.75,"i":0.08,"d":0.076},{"t":2017.85,"i":0.09,"d":0.098},{"t":2017.95,"i":0.104,"d":null},{"t":2018.05,"i":0.1,"d":0.098},{"t":2018.15,"i":0.082,"d":0.086},{"t":2018.25,"i":0.074,"d":0.07},{"t":2018.35,"i":0.066,"d":0.072},{"t":2018.45,"i":0.068,"d":0.064},{"t":2018.55,"i":0.072,"d":0.076},{"t":2018.65,"i":0.078,"d":0.074},{"t":2018.75,"i":0.085,"d":0.09},{"t":2018.85,"i":0.096,"d":0.092},{"t":2018.95,"i":0.104,"d":0.11},{"t":2019.05,"i":0.1,"d":0.095},{"t":2019.15,"i":0.085,"d":0.09},{"t":2019.25,"i":0.078,"d":0.074},{"t":2019.35,"i":0.072,"d":0.076},{"t":2019.45,"i":0.072,"d":0.068},{"t":2019.55,"i":0.082,"d":0.078},{"t":2019.65,"i":0.094,"d":0.1},{"t":2019.75,"i":0.104,"d":0.098},{"t":2019.85,"i":0.1,"d":null},{"t":2019.95,"i":0.09,"d":0.094},{"t":2020.05,"i":0.08,"d":0.084},{"t":2020.15,"i":0.072,"d":0.07},{"t":2020.25,"i":0.066,"d":0.072},{"t":2020.35,"i":0.068,"d":0.062},{"t":2020.45,"i":0.072,"d":0.074},{"t":2020.65,"i":0.086,"d":0.08},{"t":2020.75,"i":0.1,"d":0.096},{"t":2020.85,"i":0.118,"d":0.124},{"t":2020.95,"i":0.118,"d":0.112}
    ],
    "batsDaily": [
      {"t":2003.0,"i":0.1,"d":0.11},{"t":2003.05,"i":0.2,"d":0.19},{"t":2003.1,"i":0.16,"d":0.17},{"t":2003.15,"i":0.21,"d":null},{"t":2003.2,"i":0.19,"d":0.2},{"t":2003.25,"i":0.12,"d":null},{"t":2003.3,"i":0.05,"d":0.045},{"t":2003.4,"i":0.045,"d":0.04},{"t":2003.5,"i":0.05,"d":0.055},{"t":2003.6,"i":0.06,"d":0.058},{"t":2003.63,"i":0.065,"d":0.16},{"t":2003.7,"i":0.075,"d":0.07},{"t":2003.8,"i":0.1,"d":0.095},{"t":2003.9,"i":0.13,"d":0.12},{"t":2004.0,"i":0.2,"d":0.19},{"t":2004.1,"i":0.266,"d":null},{"t":2004.15,"i":0.2,"d":0.21},{"t":2004.21,"i":0.18,"d":0.24},{"t":2004.3,"i":0.1,"d":0.09},{"t":2004.4,"i":0.05,"d":0.055},{"t":2004.5,"i":0.04,"d":0.042},{"t":2004.6,"i":0.045,"d":0.04},{"t":2004.7,"i":0.055,"d":0.05},{"t":2004.8,"i":0.09,"d":0.1},{"t":2004.9,"i":0.13,"d":0.12},{"t":2005.0,"i":0.17,"d":null},{"t":2005.1,"i":0.22,"d":0.2},{"t":2005.18,"i":0.2,"d":0.19},{"t":2005.24,"i":0.283,"d":null},{"t":2005.3,"i":0.08,"d":0.075},{"t":2005.4,"i":0.045,"d":0.04},{"t":2005.5,"i":0.04,"d":0.038},{"t":2005.6,"i":0.042,"d":0.04},{"t":2005.7,"i":0.05,"d":0.048},{"t":2005.8,"i":0.07,"d":0.065},{"t":2005.9,"i":0.1,"d":0.105},{"t":2006.0,"i":0.17,"d":null},{"t":2006.1,"i":0.28,"d":null},{"t":2006.15,"i":0.25,"d":0.3},{"t":2006.23,"i":0.3,"d":0.373},{"t":2006.3,"i":0.1,"d":0.12},{"t":2006.35,"i":0.06,"d":0.058},{"t":2006.45,"i":0.05,"d":0.048},{"t":2006.55,"i":0.05,"d":0.052},{"t":2006.58,"i":0.05,"d":0.394},{"t":2006.62,"i":0.05,"d":0.045},{"t":2006.7,"i":0.07,"d":0.065},{"t":2006.8,"i":0.12,"d":0.11},{"t":2006.9,"i":0.18,"d":0.17},{"t":2007.02,"i":0.28,"d":null},{"t":2007.1,"i":0.2,"d":0.22},{"t":2007.2,"i":0.18,"d":0.17},{"t":2007.27,"i":0.275,"d":null},{"t":2007.32,"i":0.06,"d":0.055},{"t":2007.4,"i":0.05,"d":0.045},{"t":2007.5,"i":0.045,"d":0.042},{"t":2007.6,"i":0.045,"d":0.05},{"t":2007.7,"i":0.06,"d":0.055},{"t":2007.8,"i":0.12,"d":0.11},{"t":2007.9,"i":0.17,"d":0.16},{"t":2008.0,"i":0.224,"d":0.2},{"t":2008.1,"i":0.13,"d":0.14},{"t":2008.17,"i":0.1,"d":0.1},{"t":2008.23,"i":0.19,"d":null},{"t":2008.3,"i":0.06,"d":0.065},{"t":2008.38,"i":0.16,"d":null},{"t":2008.45,"i":0.05,"d":0.048},{"t":2008.55,"i":0.045,"d":0.042},{"t":2008.65,"i":0.04,"d":0.045},{"t":2008.75,"i":0.05,"d":0.048},{"t":2008.85,"i":0.1,"d":0.18},{"t":2008.95,"i":0.18,"d":0.2},{"t":2009.05,"i":0.2,"d":0.22},{"t":2009.12,"i":0.252,"d":null},{"t":2009.2,"i":0.16,"d":0.15},{"t":2009.3,"i":0.05,"d":0.045},{"t":2009.4,"i":0.045,"d":0.05},{"t":2009.5,"i":0.05,"d":0.06},{"t":2009.6,"i":0.055,"d":0.05},{"t":2009.7,"i":0.06,"d":0.065},{"t":2009.8,"i":0.08,"d":0.075},{"t":2009.9,"i":0.12,"d":0.11},{"t":2010.0,"i":0.17,"d":null},{"t":2010.1,"i":0.2,"d":0.19},{"t":2010.17,"i":0.25,"d":0.27},{"t":2010.22,"i":0.3,"d":0.515},{"t":2010.27,"i":0.22,"d":0.23},{"t":2010.32,"i":0.1,"d":0.22},{"t":2010.4,"i":0.06,"d":0.065},{"t":2010.5,"i":0.045,"d":0.04},{"t":2010.6,"i":0.04,"d":0.045},{"t":2010.7,"i":0.05,"d":0.055},{"t":2010.8,"i":0.12,"d":0.11},{"t":2010.9,"i":0.18,"d":0.17},{"t":2011.0,"i":0.25,"d":null},{"t":2011.06,"i":0.377,"d":null},{"t":2011.1,"i":0.3,"d":0.28},{"t":2011.16,"i":0.3,"d":0.39},{"t":2011.2,"i":0.28,"d":0.25},{"t":2011.24,"i":0.2,"d":0.206},{"t":2011.3,"i":0.1,"d":0.099},{"t":2011.42,"i":0.055,"d":0.053},{"t":2011.59,"i":0.048,"d":0.046},{"t":2011.7,"i":0.055,"d":0.06},{"t":2011.77,"i":0.07,"d":0.069},{"t":2011.88,"i":0.15,"d":0.153},{"t":2011.96,"i":0.2,"d":0.222},{"t":2012.0,"i":0.23,"d":null},{"t":2012.05,"i":0.21,"d":0.206},{"t":2012.11,"i":0.19,"d":0.2},{"t":2012.17,"i":0.18,"d":0.183},{"t":2012.23,"i":0.12,"d":0.122},{"t":2012.34,"i":0.075,"d":0.076},{"t":2012.46,"i":0.07,"d":0.065},{"t":2012.58,"i":0.048,"d":0.046},{"t":2012.75,"i":0.055,"d":0.053},{"t":2012.87,"i":0.11,"d":0.114},{"t":2012.99,"i":0.165,"d":null},{"t":2013.05,"i":0.19,"d":null},{"t":2013.11,"i":0.21,"d":0.206},{"t":2013.2,"i":0.282,"d":null},{"t":2013.25,"i":0.2,"d":0.18},{"t":2013.28,"i":0.07,"d":0.069},{"t":2013.4,"i":0.048,"d":0.046},{"t":2013.58,"i":0.047,"d":0.046},{"t":2013.67,"i":0.06,"d":0.153},{"t":2013.75,"i":0.07,"d":0.069},{"t":2013.87,"i":0.11,"d":0.114},{"t":2013.98,"i":0.13,"d":0.13},{"t":2014.1,"i":0.15,"d":0.16},{"t":2014.18,"i":0.15,"d":0.183},{"t":2014.25,"i":0.055,"d":0.053},{"t":2014.39,"i":0.05,"d":0.053},{"t":2014.57,"i":0.04,"d":0.038},{"t":2014.74,"i":0.06,"d":0.061},{"t":2014.86,"i":0.11,"d":0.107},{"t":2014.98,"i":0.214,"d":null},{"t":2015.03,"i":0.244,"d":null},{"t":2015.09,"i":0.206,"d":0.2},{"t":2015.21,"i":0.13,"d":0.13},{"t":2015.33,"i":0.062,"d":0.061},{"t":2015.5,"i":0.048,"d":0.046},{"t":2015.68,"i":0.06,"d":0.061},{"t":2015.85,"i":0.1,"d":0.099},{"t":2015.95,"i":0.12,"d":null},{"t":2016.03,"i":0.13,"d":null},{"t":2016.15,"i":0.122,"d":0.12},{"t":2016.27,"i":0.084,"d":0.08},{"t":2016.38,"i":0.04,"d":0.038},{"t":2016.5,"i":0.035,"d":0.033},{"t":2016.62,"i":0.032,"d":0.031},{"t":2016.79,"i":0.06,"d":0.061},{"t":2016.91,"i":0.105,"d":0.107},{"t":2017.02,"i":0.137,"d":0.137},{"t":2017.14,"i":0.16,"d":0.16},{"t":2017.22,"i":0.18,"d":0.229},{"t":2017.29,"i":0.085,"d":0.084},{"t":2017.43,"i":0.053,"d":0.053},{"t":2017.6,"i":0.046,"d":0.046},{"t":2017.78,"i":0.07,"d":0.069},{"t":2017.87,"i":0.1,"d":0.16},{"t":2017.96,"i":0.107,"d":0.107},{"t":2018.07,"i":0.15,"d":0.183},{"t":2018.16,"i":0.114,"d":0.114},{"t":2018.22,"i":0.175,"d":null},{"t":2018.3,"i":0.053,"d":0.053},{"t":2018.42,"i":0.038,"d":0.04},{"t":2018.53,"i":0.06,"d":0.061},{"t":2018.65,"i":0.07,"d":0.19},{"t":2018.7,"i":0.053,"d":0.053},{"t":2018.82,"i":0.06,"d":0.061},{"t":2018.93,"i":0.114,"d":0.114},{"t":2019.05,"i":0.19,"d":0.19},{"t":2019.1,"i":0.267,"d":null},{"t":2019.16,"i":0.25,"d":0.26},{"t":2019.22,"i":0.13,"d":0.13},{"t":2019.34,"i":0.053,"d":0.053},{"t":2019.51,"i":0.061,"d":0.06},{"t":2019.69,"i":0.046,"d":0.046},{"t":2019.8,"i":0.069,"d":0.069},{"t":2019.88,"i":0.282,"d":null},{"t":2019.95,"i":0.175,"d":0.17},{"t":2020.04,"i":0.19,"d":0.19},{"t":2020.12,"i":0.16,"d":0.15},{"t":2020.19,"i":0.198,"d":null},{"t":2020.27,"i":0.114,"d":0.12},{"t":2020.39,"i":0.053,"d":0.055},{"t":2020.5,"i":0.038,"d":0.04},{"t":2020.62,"i":0.046,"d":0.046},{"t":2020.73,"i":0.069,"d":0.07},{"t":2020.85,"i":0.099,"d":0.1},{"t":2020.94,"i":0.092,"d":0.09},
      {"t":2003.35,"i":0.05,"d":0.042},{"t":2003.45,"i":0.04,"d":0.048},{"t":2003.55,"i":0.056,"d":0.05},{"t":2003.75,"i":0.09,"d":0.08},{"t":2003.85,"i":0.11,"d":0.118},{"t":2003.95,"i":0.17,"d":0.155},{"t":2004.05,"i":0.23,"d":null},{"t":2004.25,"i":0.15,"d":0.13},{"t":2004.35,"i":0.07,"d":0.075},{"t":2004.45,"i":0.048,"d":0.04},{"t":2004.55,"i":0.04,"d":0.046},{"t":2004.65,"i":0.05,"d":0.044},{"t":2004.75,"i":0.07,"d":0.078},{"t":2004.85,"i":0.12,"d":0.1},{"t":2004.95,"i":0.14,"d":0.15},{"t":2005.05,"i":0.2,"d":null},{"t":2005.14,"i":0.24,"d":0.21},{"t":2005.35,"i":0.055,"d":0.06},{"t":2005.45,"i":0.042,"d":0.046},{"t":2005.55,"i":0.045,"d":0.038},{"t":2005.65,"i":0.04,"d":0.046},{"t":2005.75,"i":0.06,"d":0.054},{"t":2005.85,"i":0.08,"d":0.09},{"t":2005.95,"i":0.13,"d":0.12},{"t":2006.05,"i":0.22,"d":null},{"t":2006.4,"i":0.055,"d":0.05},{"t":2006.5,"i":0.045,"d":0.052},{"t":2006.66,"i":0.06,"d":0.055},{"t":2006.75,"i":0.09,"d":0.1},{"t":2006.85,"i":0.15,"d":0.14},{"t":2006.96,"i":0.23,"d":null},{"t":2007.06,"i":0.24,"d":0.26},{"t":2007.15,"i":0.19,"d":0.2},{"t":2007.36,"i":0.055,"d":0.05},{"t":2007.45,"i":0.048,"d":0.045},{"t":2007.55,"i":0.04,"d":0.046},{"t":2007.65,"i":0.05,"d":0.045},{"t":2007.75,"i":0.09,"d":0.08},{"t":2007.85,"i":0.15,"d":0.14},{"t":2007.95,"i":0.19,"d":0.21},{"t":2008.05,"i":0.16,"d":0.17},{"t":2008.5,"i":0.046,"d":0.05},{"t":2008.6,"i":0.042,"d":0.04},{"t":2008.7,"i":0.045,"d":0.05},{"t":2008.8,"i":0.08,"d":0.07},{"t":2008.9,"i":0.15,"d":0.16},{"t":2009.0,"i":0.2,"d":0.19},{"t":2009.25,"i":0.1,"d":0.09},{"t":2009.35,"i":0.048,"d":0.05},{"t":2009.45,"i":0.05,"d":0.045},{"t":2009.55,"i":0.06,"d":0.055},{"t":2009.65,"i":0.05,"d":0.056},{"t":2009.75,"i":0.07,"d":0.065},{"t":2009.85,"i":0.1,"d":0.095},{"t":2009.95,"i":0.14,"d":0.13},{"t":2010.05,"i":0.18,"d":null},{"t":2010.45,"i":0.05,"d":0.048},{"t":2010.55,"i":0.042,"d":0.046},{"t":2010.65,"i":0.046,"d":0.04},{"t":2010.75,"i":0.08,"d":0.085},{"t":2010.85,"i":0.15,"d":0.14},{"t":2010.95,"i":0.21,"d":null}
    ]
  },
  "resolve": {"scale": {"color": "independent"}, "legend": {"color": "independent"}},
  "spacing": 47,
  "hconcat": [
    {
      "vconcat": [
        {
          "width": 481, "height": 135,
          "layer": [
            {
              "data": {"name": "hotsMonthly"},
              "mark": {"type": "line", "strokeWidth": 1, "invalid": "break-paths-show-domains"},
              "encoding": {
                "x": {"field": "t", "type": "quantitative", "scale": {"domain": [2003, 2021], "nice": false, "zero": false}, "axis": {"values": [2004, 2006, 2008, 2010, 2012, 2014, 2016, 2018, 2020], "format": "d", "title": null}},
                "y": {"field": "v", "type": "quantitative", "scale": {"domain": [0, 0.4], "nice": false}, "axis": {"values": [0, 0.2, 0.4], "format": "~g", "title": null}},
                "color": {"datum": "HOTS surf Chl a", "scale": {"range": ["#2222aa"]}, "legend": {"title": null, "orient": "none", "legendX": 325, "legendY": 10}}
              }
            },
            {
              "data": {"values": [{}]},
              "mark": {"type": "text", "text": "(a)", "font": "Liberation Serif", "fontWeight": "bold", "fontSize": 20, "align": "left", "baseline": "middle", "color": "#000000"},
              "encoding": {"x": {"datum": 2003.22}, "y": {"datum": 0.355}}
            }
          ]
        },
        {
          "width": 481, "height": 135,
          "layer": [
            {
              "data": {"name": "hots8day"},
              "mark": {"type": "line", "strokeWidth": 1, "invalid": "break-paths-show-domains"},
              "encoding": {
                "x": {"field": "t", "type": "quantitative", "scale": {"domain": [2003, 2021], "nice": false, "zero": false}, "axis": {"values": [2004, 2006, 2008, 2010, 2012, 2014, 2016, 2018, 2020], "format": "d", "title": null}},
                "y": {"field": "v", "type": "quantitative", "scale": {"domain": [0, 0.4], "nice": false}, "axis": {"values": [0, 0.2, 0.4], "format": "~g", "title": "Chl a (mg m⁻³)", "titleFont": "Liberation Sans", "titleFontWeight": "normal", "titleFontSize": 18, "titleColor": "#262626", "titleAngle": 270, "titleAlign": "center", "titleBaseline": "middle", "titleX": -44, "titleY": 60}},
                "color": {"datum": "8-day averaged Chl a", "scale": {"range": ["#2222aa"]}, "legend": {"title": null, "orient": "none", "legendX": 290, "legendY": 10}}
              }
            },
            {
              "data": {"values": [{}]},
              "mark": {"type": "text", "text": "(c)", "font": "Liberation Serif", "fontWeight": "bold", "fontSize": 20, "align": "left", "baseline": "middle", "color": "#000000"},
              "encoding": {"x": {"datum": 2003.22}, "y": {"datum": 0.359}}
            }
          ]
        },
        {
          "width": 481, "height": 135,
          "layer": [
            {
              "data": {"name": "hotsDaily"},
              "mark": {"type": "line", "strokeWidth": 1, "opacity": 0.9, "invalid": "break-paths-show-domains"},
              "encoding": {
                "x": {"field": "t", "type": "quantitative", "scale": {"domain": [2003, 2021], "nice": false, "zero": false}, "axis": {"values": [2004, 2006, 2008, 2010, 2012, 2014, 2016, 2018, 2020], "format": "d", "title": null}},
                "y": {"field": "i", "type": "quantitative", "scale": {"domain": [0, 0.4], "nice": false}, "axis": {"values": [0, 0.2, 0.4], "format": "~g", "title": null}},
                "color": {"datum": "DINEOF+ interpolated", "scale": {"domain": ["Daily Chl a", "DINEOF+ interpolated"], "range": ["#2222aa", "#ee2222"]}, "legend": {"title": null, "orient": "none", "legendX": 285, "legendY": 11}}
              }
            },
            {
              "data": {"name": "hotsDaily"},
              "mark": {"type": "line", "strokeWidth": 1, "opacity": 0.9, "invalid": "break-paths-show-domains"},
              "encoding": {
                "x": {"field": "t", "type": "quantitative"},
                "y": {"field": "d", "type": "quantitative"},
                "color": {"datum": "Daily Chl a"}
              }
            },
            {
              "data": {"values": [{}]},
              "mark": {"type": "text", "text": "(d)", "font": "Liberation Serif", "fontWeight": "bold", "fontSize": 20, "align": "left", "baseline": "middle", "color": "#000000"},
              "encoding": {"x": {"datum": 2003.22}, "y": {"datum": 0.355}}
            }
          ]
        }
      ],
      "spacing": 58,
      "bounds": "flush",
      "resolve": {"scale": {"color": "independent"}, "legend": {"color": "independent"}}
    },
    {
      "vconcat": [
        {
          "width": 514, "height": 1,
          "data": {"values": []},
          "mark": "point",
          "encoding": {}
        },
        {
          "vconcat": [
            {
              "width": 514, "height": 132,
              "layer": [
                {
                  "data": {"name": "batsMonthly"},
                  "mark": {"type": "line", "strokeWidth": 1, "invalid": "break-paths-show-domains"},
                  "encoding": {
                    "x": {"field": "t", "type": "quantitative", "scale": {"domain": [2003, 2021], "nice": false, "zero": false}, "axis": {"values": [2004, 2006, 2008, 2010, 2012, 2014, 2016, 2018, 2020], "format": "d", "title": null}},
                    "y": {"field": "v", "type": "quantitative", "scale": {"domain": [0, 0.6], "nice": false}, "axis": {"values": [0, 0.2, 0.4, 0.6], "format": "~g", "title": null}},
                    "color": {"datum": "BATS surf Chl a", "scale": {"range": ["#2222aa"]}, "legend": {"title": null, "orient": "none", "legendX": 354, "legendY": 12}}
                  }
                },
                {
                  "data": {"values": [{}]},
                  "mark": {"type": "text", "text": "(b)", "font": "Liberation Serif", "fontWeight": "bold", "fontSize": 20, "align": "left", "baseline": "middle", "color": "#000000"},
                  "encoding": {"x": {"datum": 2003.19}, "y": {"datum": 0.57}}
                }
              ]
            },
            {
              "width": 514, "height": 132,
              "layer": [
                {
                  "data": {"name": "bats8day"},
                  "mark": {"type": "line", "strokeWidth": 1, "invalid": "break-paths-show-domains"},
                  "encoding": {
                    "x": {"field": "t", "type": "quantitative", "scale": {"domain": [2003, 2021], "nice": false, "zero": false}, "axis": {"values": [2004, 2006, 2008, 2010, 2012, 2014, 2016, 2018, 2020], "format": "d", "title": null}},
                    "y": {"field": "v", "type": "quantitative", "scale": {"domain": [0, 0.6], "nice": false}, "axis": {"values": [0, 0.2, 0.4, 0.6], "format": "~g", "title": null}},
                    "color": {"datum": "8-day averaged Chl a", "scale": {"range": ["#2222aa"]}, "legend": {"title": null, "orient": "none", "legendX": 319, "legendY": 13}}
                  }
                },
                {
                  "data": {"values": [{}]},
                  "mark": {"type": "text", "text": "(d)", "font": "Liberation Serif", "fontWeight": "bold", "fontSize": 20, "align": "left", "baseline": "middle", "color": "#000000"},
                  "encoding": {"x": {"datum": 2003.19}, "y": {"datum": 0.562}}
                }
              ]
            },
            {
              "width": 514, "height": 132,
              "layer": [
                {
                  "data": {"name": "batsDaily"},
                  "mark": {"type": "line", "strokeWidth": 1, "opacity": 0.9, "invalid": "break-paths-show-domains"},
                  "encoding": {
                    "x": {"field": "t", "type": "quantitative", "scale": {"domain": [2003, 2021], "nice": false, "zero": false}, "axis": {"values": [2004, 2006, 2008, 2010, 2012, 2014, 2016, 2018, 2020], "format": "d", "title": null}},
                    "y": {"field": "i", "type": "quantitative", "scale": {"domain": [0, 0.6], "nice": false}, "axis": {"values": [0, 0.2, 0.4, 0.6], "format": "~g", "title": null}},
                    "color": {"datum": "DINEOF+ interpolated", "scale": {"domain": ["Daily Chl a", "DINEOF+ interpolated"], "range": ["#2222aa", "#ee2222"]}, "legend": {"title": null, "orient": "none", "legendX": 313, "legendY": 13}}
                  }
                },
                {
                  "data": {"name": "batsDaily"},
                  "mark": {"type": "line", "strokeWidth": 1, "opacity": 0.9, "invalid": "break-paths-show-domains"},
                  "encoding": {
                    "x": {"field": "t", "type": "quantitative"},
                    "y": {"field": "d", "type": "quantitative"},
                    "color": {"datum": "Daily Chl a"}
                  }
                },
                {
                  "data": {"values": [{}]},
                  "mark": {"type": "text", "text": "(e)", "font": "Liberation Serif", "fontWeight": "bold", "fontSize": 20, "align": "left", "baseline": "middle", "color": "#000000"},
                  "encoding": {"x": {"datum": 2003.19}, "y": {"datum": 0.55}}
                }
              ]
            }
          ],
          "spacing": 57,
          "bounds": "flush",
          "resolve": {"scale": {"color": "independent"}, "legend": {"color": "independent"}}
        }
      ],
      "spacing": 9,
      "bounds": "flush",
      "resolve": {"scale": {"color": "independent"}, "legend": {"color": "independent"}}
    }
  ]
}
